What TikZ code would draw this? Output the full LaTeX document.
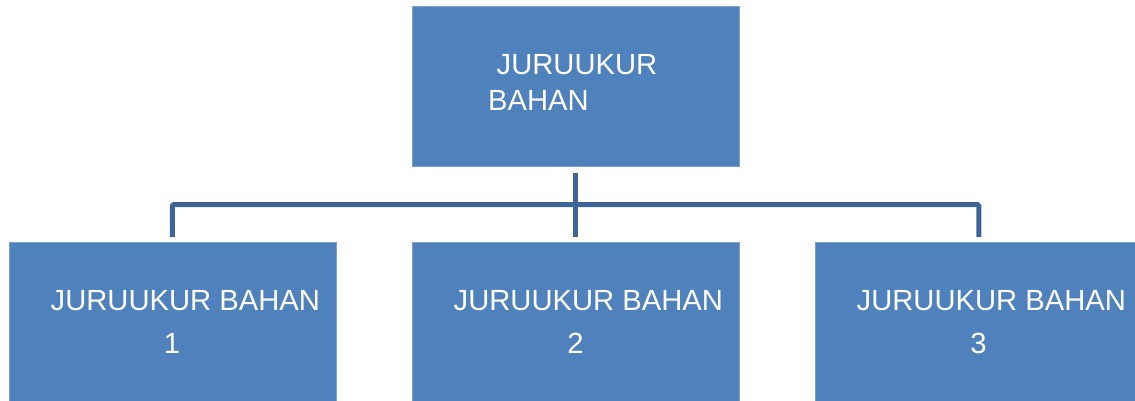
\documentclass[tikz,border=0pt]{standalone}
\usepackage{fontspec}
\setmainfont{Liberation Sans}
\definecolor{boxblue}{RGB}{79,129,189}
\definecolor{boxedge}{RGB}{125,160,208}
\definecolor{linkblue}{RGB}{61,101,152}
\begin{document}
\begin{tikzpicture}[x=1pt,y=-1pt,
  orgbox/.style={draw=boxedge,line width=0.8pt,fill=boxblue,minimum width=327pt,minimum height=160pt,inner sep=0pt,anchor=north west},
  lbl/.style={text=white,font=\fontsize{29.2}{34}\selectfont,anchor=base west,inner sep=0pt},
  lblc/.style={text=white,font=\fontsize{29.2}{34}\selectfont,anchor=base,inner sep=0pt},
  conn/.style={draw=linkblue,line width=5pt}]
\useasboundingbox (0,0) rectangle (1135,401);
\node[orgbox] (top) at (412,6) {};
\node[orgbox] (b1) at (8.5,242) {};
\node[orgbox] (b2) at (412,242) {};
\node[orgbox] (b3) at (815,242) {};
\coordinate (bar) at (575.5,204.5);
% labels
\node[lbl] (t1) at (496.5,75) {JURUUKUR};
\node[lbl] (t2) at (488,110.5) {BAHAN};
\node[lbl] (l1) at (50.5,310.5) {JURUUKUR BAHAN};
\node[lblc] (n1) at (172,353.5) {1};
\node[lbl] (l2) at (453.5,310.5) {JURUUKUR BAHAN};
\node[lblc] (n2) at (575.5,353.5) {2};
\node[lbl] (l3) at (856.5,310.5) {JURUUKUR BAHAN};
\node[lblc] (n3) at (978.5,353.5) {3};
% connectors
\draw[conn,shorten <=6pt,shorten >=5pt] (top.south) -- (b2.north);
\draw[conn,shorten <=5pt,shorten >=5pt,rounded corners=1.5pt] (b1.north) |- (bar) -| (b3.north);
\end{tikzpicture}
\end{document}
